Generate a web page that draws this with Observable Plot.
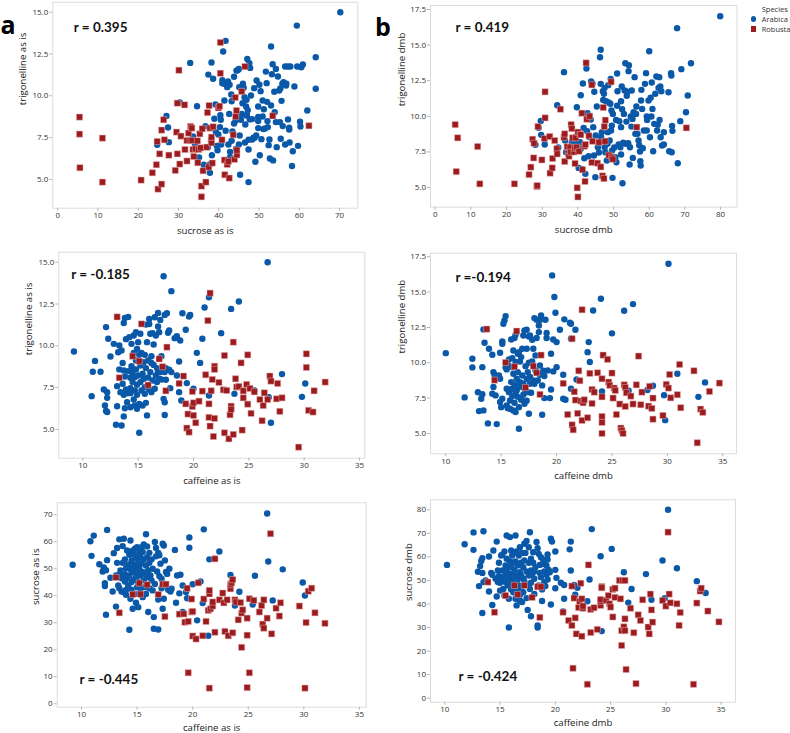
<!DOCTYPE html>
<html><head><meta charset="utf-8">
<script src="https://cdn.jsdelivr.net/npm/d3@7"></script>
<script src="https://cdn.jsdelivr.net/npm/@observablehq/plot@0.6"></script>
<style>
body{margin:0;background:#fff;width:790px;height:733px;position:relative;overflow:hidden;font-family:"Open Sans",sans-serif;}
.panel{position:absolute;}
.legend{position:absolute;left:748px;top:4px;font-family:"Open Sans",sans-serif;font-size:7.5px;color:#333;line-height:10px;}
.legend .row{position:relative;padding-left:13.7px;white-space:nowrap;}
.legend .sym{position:absolute;left:3px;top:2.4px;width:5.4px;height:5.4px;}
</style></head><body>
<div id="root"></div>
<div class="legend">
  <div class="row" style="padding-left:13.7px">Species</div>
  <div class="row"><span class="sym" style="background:#0a58a8;border-radius:50%"></span>Arabica</div>
  <div class="row"><span class="sym" style="background:#9b1b1e"></span>Robusta</div>
</div>
<script>
const arabicaColor = "#0a58a8", robustaColor = "#9b1b1e";

// tick values
const sucroseAsIsTicks = [0,10,20,30,40,50,60,70];
const sucroseDmbTicks = [0,10,20,30,40,50,60,70,80];
const caffeineTicks = [10,15,20,25,30,35];
const trigAsIsTicks = [5,7.5,10,12.5,15];
const trigDmbTicks = [5,7.5,10,12.5,15,17.5];
const sucroseAsIsYTicks = [0,10,20,30,40,50,60,70];
const sucroseDmbYTicks = [0,10,20,30,40,50,60,70,80];

// correlation labels
const rA1 = "r = 0.395", rB1 = "r = 0.419", rA2 = "r = -0.185", rB2 = "r =-0.194", rA3 = "r = -0.445", rB3 = "r = -0.424";

// panel a1: sucrose as is vs trigonelline as is
const a1Robusta = [[5.4,8.73],[5.4,7.71],[5.5,5.70],[11.1,7.47],[11.1,4.84],[20.7,4.96],[23.5,5.40],[24.7,7.27],[24.5,5.88],[24.9,4.42],[25.3,6.53],[25.8,4.72],[25.8,7.95],[26.3,8.57],[26.5,7.37],[27.6,6.45],[29.5,7.83],[29.7,9.56],[29.2,5.54],[29.7,6.53],[30.1,11.53],[30.3,5.92],[30.6,7.59],[31.5,9.46],[31.6,6.79],[32.1,6.10],[32.1,7.33],[32.5,7.77],[33.0,8.17],[33.3,8.07],[32.9,7.33],[33.4,7.33],[33.6,6.79],[33.8,6.37],[34.2,6.83],[34.7,7.31],[34.8,6.00],[35.0,6.79],[35.3,7.73],[35.5,6.89],[35.7,4.60],[35.9,8.03],[35.7,3.96],[36.1,5.52],[36.8,4.84],[37.0,6.93],[37.2,9.00],[37.5,5.74],[37.6,9.42],[37.8,8.07],[38.1,7.33],[38.2,7.19],[38.2,7.53],[38.4,5.98],[38.6,8.15],[39.9,9.28],[40.2,9.38],[40.4,11.35],[40.4,13.19],[40.8,7.37],[41.5,5.28],[41.4,6.16],[42.6,5.08],[42.1,5.90],[42.4,6.08],[43.6,7.67],[43.9,6.20],[44.1,9.90],[44.2,8.76],[44.4,9.12],[44.5,6.47],[44.5,6.75],[45.7,10.26],[46.5,11.75],[53.4,8.80],[62.4,8.21]];
const a1Arabica = [[24.7,7.07],[27.0,8.80],[27.4,8.11],[27.6,7.23],[30.3,9.60],[32.9,11.97],[33.6,7.57],[34.1,7.11],[34.6,9.38],[35.1,6.31],[36.3,5.88],[36.7,8.19],[37.3,6.93],[37.8,5.90],[37.8,5.40],[37.4,11.27],[38.2,11.99],[38.6,11.02],[38.3,6.45],[38.9,8.63],[39.2,9.48],[39.3,7.83],[39.5,7.01],[39.7,6.75],[39.9,7.69],[40.3,8.13],[40.4,8.84],[40.5,8.57],[40.6,7.09],[40.9,10.94],[40.9,10.76],[41.3,10.72],[41.1,12.65],[41.7,13.29],[41.4,9.72],[41.7,7.91],[42.1,10.52],[42.3,10.86],[42.7,10.66],[42.6,8.92],[42.4,7.09],[42.8,6.33],[42.8,6.65],[43.1,10.08],[43.2,9.68],[43.2,7.31],[43.4,7.87],[43.8,8.35],[43.8,11.14],[44.2,8.53],[44.3,6.83],[44.4,11.51],[44.7,11.53],[44.8,8.61],[45.0,7.09],[45.0,11.61],[45.1,10.52],[45.2,7.63],[45.3,5.28],[45.5,8.57],[45.7,8.92],[45.9,9.56],[46.0,10.72],[46.2,10.48],[46.4,9.92],[46.5,7.21],[46.6,8.29],[46.8,9.36],[46.8,8.82],[46.9,9.76],[47.0,8.86],[47.1,12.21],[47.2,9.14],[47.4,4.84],[47.4,7.37],[47.4,6.79],[47.6,11.95],[47.7,8.59],[47.8,11.67],[48.0,10.02],[48.3,8.61],[48.3,7.39],[48.6,7.49],[48.8,10.46],[49.1,6.06],[48.9,7.49],[49.3,7.63],[49.4,10.92],[49.8,9.36],[49.8,8.73],[49.8,8.07],[49.8,8.49],[50.1,10.66],[50.2,6.45],[50.4,10.28],[50.6,7.41],[50.9,9.72],[50.9,8.76],[51.1,8.01],[51.2,9.20],[51.5,8.05],[51.7,11.45],[51.9,10.76],[52.0,9.64],[52.1,8.49],[52.2,8.13],[52.4,7.05],[52.6,7.39],[52.7,6.25],[53.0,9.42],[53.0,12.95],[53.2,11.29],[53.4,11.89],[53.5,6.14],[53.8,10.24],[53.9,9.02],[54.2,8.43],[54.2,11.61],[54.4,6.93],[54.7,11.16],[55.0,10.32],[55.2,8.43],[55.3,10.44],[55.4,7.43],[55.6,9.70],[55.8,10.72],[55.9,8.19],[56.1,10.82],[56.5,11.75],[56.5,7.09],[56.7,10.62],[56.8,10.72],[57.2,11.75],[57.2,8.59],[57.5,7.99],[57.5,8.09],[57.6,7.21],[57.8,11.75],[58.2,5.80],[58.4,6.69],[58.8,10.56],[59.4,14.20],[59.5,11.75],[59.7,7.01],[60.2,8.45],[60.3,8.17],[60.5,11.71],[60.9,11.87],[62.0,9.12],[64.1,12.31],[64.1,10.42],[70.2,15.0]];

// panel b1: sucrose dmb vs trigonelline dmb
const b1Robusta = [[5.6,9.42],[6.3,8.49],[5.9,6.12],[11.9,7.88],[12.5,5.26],[22.2,5.26],[26.3,5.91],[26.8,6.43],[27.3,8.39],[27.7,8.11],[27.6,7.08],[28.5,5.07],[28.6,5.14],[28.8,9.28],[29.9,6.94],[30.6,8.44],[30.8,11.72],[30.8,9.89],[32.1,8.58],[32.2,6.01],[32.8,6.38],[32.9,7.04],[33.5,8.30],[34.1,7.72],[34.2,7.36],[35.1,10.50],[36.1,8.53],[36.3,8.77],[36.3,6.83],[37.0,7.88],[37.3,7.41],[37.5,7.20],[37.8,7.83],[38.0,7.48],[38.1,9.42],[38.3,9.14],[38.5,8.49],[38.9,7.50],[39.1,7.76],[39.2,6.69],[39.4,8.49],[39.6,7.83],[40.0,8.89],[39.8,4.98],[40.0,4.34],[40.3,7.55],[40.6,8.70],[40.8,8.72],[41.1,10.22],[41.3,6.25],[41.8,7.90],[42.0,5.43],[42.1,8.02],[42.3,13.75],[42.5,9.80],[43.3,10.01],[43.1,8.63],[43.9,12.21],[43.9,6.76],[44.1,8.25],[45.5,6.71],[45.9,8.18],[46.4,6.45],[46.9,5.82],[47.1,10.62],[47.3,5.63],[47.4,9.28],[47.7,9.73],[47.6,8.25],[48.7,7.27],[49.3,12.42],[49.5,7.13],[49.8,6.99],[56.5,9.24],[70.4,9.19]];
const b1Arabica = [[29.0,9.19],[29.6,9.68],[29.7,8.70],[30.7,8.02],[28.1,8.00],[34.2,10.78],[34.5,7.81],[36.1,13.10],[36.4,8.30],[36.7,7.48],[37.1,7.76],[38.3,8.18],[39.3,8.56],[39.4,8.07],[39.7,10.64],[40.2,6.38],[40.6,8.18],[40.8,7.72],[40.8,11.48],[41.1,6.31],[41.4,12.30],[41.6,9.19],[41.8,7.06],[42.1,5.96],[42.4,13.36],[42.6,8.96],[42.7,10.22],[43.0,7.20],[43.2,8.54],[43.6,9.77],[43.7,12.44],[44.1,12.30],[44.3,9.24],[44.5,7.25],[44.6,11.72],[44.9,5.73],[45.0,8.65],[45.3,10.69],[45.6,7.83],[45.9,7.46],[46.2,14.15],[46.4,14.67],[46.4,12.28],[46.5,8.53],[46.7,8.89],[47.0,11.76],[47.1,11.15],[47.3,11.58],[47.5,12.00],[47.5,7.83],[47.7,7.48],[47.9,11.06],[48.1,6.90],[48.3,8.07],[48.4,8.89],[48.5,12.19],[48.6,10.97],[48.9,8.30],[49.1,10.88],[49.2,12.63],[49.3,9.00],[49.4,10.41],[49.5,9.35],[49.6,7.60],[49.7,5.68],[49.8,10.17],[50.2,7.81],[50.5,7.13],[50.7,9.75],[50.8,6.78],[51.0,10.74],[51.0,13.01],[51.1,11.76],[51.4,8.02],[51.6,9.66],[51.9,7.83],[52.1,7.32],[52.1,11.06],[52.1,9.24],[52.3,12.09],[52.4,10.50],[52.5,5.30],[52.7,8.14],[52.9,10.17],[53.1,11.81],[53.3,13.73],[53.4,8.07],[53.6,9.63],[53.7,11.44],[53.9,11.72],[54.1,8.11],[54.2,13.17],[54.3,13.59],[54.5,6.62],[54.6,7.83],[54.8,9.99],[55.0,9.28],[55.1,11.81],[55.3,9.82],[55.4,7.08],[55.6,10.29],[55.9,12.75],[56.1,8.77],[56.3,10.17],[56.4,10.69],[56.7,8.77],[57.0,8.30],[57.2,7.97],[57.4,7.53],[57.5,6.85],[57.6,6.54],[57.7,11.11],[57.8,11.86],[58.0,10.52],[58.2,7.76],[58.5,9.00],[58.8,12.28],[59.1,13.03],[59.3,9.99],[59.3,9.00],[59.4,9.75],[59.8,11.11],[60.0,14.57],[60.2,8.53],[60.4,11.30],[60.6,9.99],[60.7,12.37],[60.9,10.52],[61.1,7.55],[61.4,9.47],[61.7,11.58],[62.0,12.80],[62.2,9.00],[62.4,9.40],[62.6,12.00],[62.8,12.75],[62.9,9.75],[63.1,12.09],[63.2,8.53],[63.4,11.76],[63.6,7.95],[64.1,8.89],[64.1,8.02],[65.4,11.69],[65.6,7.55],[66.1,13.03],[66.2,12.86],[66.3,7.48],[66.4,9.33],[66.5,8.98],[67.8,16.19],[68.0,6.71],[69.0,13.31],[68.7,9.66],[70.3,10.29],[70.8,11.46],[71.7,13.73],[79.9,17.03]];

// panel a2: caffeine as is vs trigonelline as is
const a2Robusta = [[13.1,11.73],[13.3,8.09],[14.5,9.38],[15.3,11.31],[15.1,9.08],[15.9,7.65],[16.9,9.22],[17.2,8.75],[17.5,7.31],[17.6,9.92],[19.1,8.19],[18.7,7.75],[19.3,6.53],[19.4,5.08],[19.6,4.84],[19.5,5.92],[19.9,7.27],[19.9,6.37],[20.0,6.59],[20.0,5.84],[20.2,5.40],[20.5,6.69],[20.8,7.29],[21.1,8.27],[21.3,11.51],[21.4,6.53],[21.5,13.15],[21.4,5.72],[21.5,5.20],[21.6,7.31],[21.7,7.99],[21.8,4.58],[21.9,5.66],[21.9,8.78],[21.9,8.59],[22.3,7.81],[22.7,7.37],[22.8,9.42],[22.8,4.80],[23.0,7.33],[23.2,4.44],[23.4,6.39],[23.3,5.88],[23.4,6.20],[23.6,10.22],[23.6,4.70],[23.8,8.03],[23.9,7.53],[24.1,7.57],[24.3,8.98],[24.4,4.96],[24.5,7.31],[24.5,6.89],[24.8,7.69],[24.9,9.46],[24.9,6.51],[25.1,7.45],[25.2,5.96],[25.5,7.25],[26.0,6.79],[26.2,5.52],[26.3,6.43],[26.4,7.19],[26.7,6.79],[26.9,8.19],[27.0,7.89],[27.5,6.83],[27.6,7.75],[27.8,6.08],[28.0,6.89],[29.5,3.94],[30.2,8.71],[30.2,9.52],[30.4,6.14],[30.8,6.04],[30.9,7.31],[31.9,7.83]];
const a2Arabica = [[9.2,9.66],[10.8,6.99],[10.9,8.45],[11.1,9.10],[11.6,8.45],[11.9,7.39],[12.0,6.43],[12.1,11.12],[12.1,6.10],[12.2,6.04],[12.2,7.23],[12.2,6.89],[12.3,10.42],[12.5,9.36],[12.8,10.12],[13.0,5.28],[13.1,7.59],[13.1,6.39],[13.2,9.62],[13.3,8.59],[13.3,10.02],[13.4,7.23],[13.5,9.72],[13.5,5.24],[13.6,7.73],[13.6,8.98],[13.7,8.53],[13.7,11.37],[13.7,7.07],[13.7,5.78],[13.8,11.67],[13.8,6.27],[13.8,8.17],[13.9,10.40],[13.9,7.39],[14.0,6.63],[14.0,7.17],[14.1,11.73],[14.1,8.49],[14.2,10.52],[14.3,8.09],[14.3,7.47],[14.3,7.17],[14.3,6.33],[14.4,8.78],[14.4,10.12],[14.5,8.27],[14.5,7.83],[14.6,6.79],[14.6,10.62],[14.6,8.57],[14.6,9.58],[14.7,6.43],[14.7,7.33],[14.7,8.13],[14.8,10.82],[14.8,9.12],[14.8,8.59],[14.9,7.07],[14.9,6.24],[14.9,9.82],[14.9,7.67],[15.0,10.22],[15.0,8.23],[15.1,4.80],[15.1,6.53],[15.1,9.46],[15.2,7.83],[15.2,8.82],[15.2,10.72],[15.3,7.33],[15.3,9.58],[15.4,8.33],[15.4,6.43],[15.5,9.02],[15.5,8.03],[15.6,7.13],[15.6,9.46],[15.6,7.53],[15.7,11.27],[15.7,6.59],[15.7,8.67],[15.8,10.22],[15.8,5.84],[15.9,9.12],[15.9,8.11],[16.0,11.61],[16.0,11.31],[16.0,7.39],[16.1,10.72],[16.1,8.43],[16.2,8.98],[16.2,9.38],[16.2,7.23],[16.3,7.93],[16.3,10.76],[16.4,10.08],[16.4,8.86],[16.5,7.43],[16.5,11.71],[16.6,8.23],[16.6,10.62],[16.7,8.67],[16.7,7.83],[16.8,8.43],[16.8,11.97],[16.8,11.16],[16.9,10.82],[16.9,8.03],[17.0,11.55],[17.0,8.43],[17.1,9.38],[17.1,7.99],[17.3,14.16],[17.3,6.83],[17.4,6.63],[17.4,5.86],[17.4,8.43],[17.4,11.85],[17.5,7.97],[17.5,8.67],[17.6,11.95],[17.7,10.78],[17.8,8.57],[17.8,10.92],[17.9,7.47],[18.0,8.43],[18.0,13.27],[18.3,10.46],[18.5,10.58],[18.5,8.23],[18.7,9.06],[18.7,7.23],[18.8,10.32],[18.9,6.73],[19.0,11.95],[19.3,10.96],[19.4,7.77],[19.6,11.75],[19.7,11.85],[20.0,7.43],[20.3,9.58],[20.6,8.98],[20.8,10.42],[21.0,12.29],[21.4,12.91],[21.4,7.03],[22.5,10.76],[23.4,12.21],[23.7,7.13],[24.1,12.65],[25.5,7.33],[26.7,15.0],[26.8,6.93],[27.0,5.40],[28.0,8.31],[29.8,6.95],[30.1,7.75]];

// panel b2: caffeine dmb vs trigonelline dmb
const b2Robusta = [[13.7,12.38],[14.4,8.77],[15.4,10.02],[16.2,9.72],[16.4,12.24],[17.2,8.25],[17.9,9.76],[18.2,9.29],[18.5,7.76],[18.6,10.54],[20.6,8.54],[21.0,6.34],[21.4,11.70],[21.4,5.61],[21.5,5.26],[21.6,7.95],[21.7,7.36],[21.9,6.42],[22.0,9.43],[22.1,8.73],[22.2,7.29],[22.3,5.92],[22.3,13.75],[22.4,7.17],[22.5,7.38],[22.8,6.11],[23.0,9.25],[23.2,7.12],[23.2,8.11],[23.4,7.92],[23.7,9.29],[24.1,8.87],[24.1,6.20],[24.1,5.78],[24.1,5.00],[24.1,7.59],[24.2,10.54],[24.6,10.24],[24.7,8.63],[24.8,8.40],[25.0,9.27],[25.1,7.50],[25.2,8.21],[25.3,8.04],[25.4,6.34],[25.7,7.08],[25.8,5.38],[25.9,5.21],[26.0,5.00],[26.1,8.44],[26.2,8.25],[26.2,6.91],[26.3,7.88],[26.7,7.64],[26.9,7.08],[27.2,8.44],[27.4,10.47],[27.6,7.03],[27.7,7.92],[28.3,6.93],[28.4,8.33],[28.6,6.77],[28.7,7.50],[28.7,6.01],[29.6,6.27],[29.9,8.47],[30.1,8.21],[30.2,9.17],[30.3,7.52],[30.9,7.74],[31.1,9.88],[31.2,6.82],[32.4,9.43],[32.7,4.34],[33.0,6.72],[33.2,6.49],[33.8,7.97],[34.7,8.56]];
const b2Arabica = [[10.0,10.68],[11.7,7.55],[12.4,9.67],[12.4,10.28],[12.9,7.91],[13.0,6.58],[13.2,7.45],[13.3,9.69],[13.3,7.77],[13.4,6.63],[13.4,12.36],[13.5,11.42],[13.8,5.71],[13.9,10.99],[14.2,10.57],[14.2,7.81],[14.3,9.34],[14.3,8.28],[14.4,9.15],[14.5,8.92],[14.5,7.69],[14.6,5.66],[14.8,9.10],[14.9,10.71],[14.9,8.87],[14.9,7.22],[15.0,6.86],[15.1,11.51],[15.1,11.34],[15.1,7.45],[15.2,12.76],[15.3,13.00],[15.4,13.30],[15.4,9.67],[15.5,6.98],[15.5,8.16],[15.5,9.53],[15.6,9.86],[15.6,6.79],[15.7,8.11],[15.7,7.92],[15.7,10.24],[15.8,7.33],[15.8,6.75],[15.9,11.65],[15.9,8.63],[16.0,9.69],[16.0,7.64],[16.0,10.33],[16.0,8.16],[16.1,6.63],[16.1,9.22],[16.1,10.87],[16.2,7.17],[16.2,11.75],[16.2,8.44],[16.3,6.51],[16.3,10.05],[16.3,7.92],[16.3,11.98],[16.4,8.87],[16.4,8.04],[16.5,10.64],[16.5,9.34],[16.5,7.59],[16.6,10.75],[16.6,5.33],[16.6,8.28],[16.6,6.86],[16.7,10.09],[16.7,8.63],[16.8,7.38],[16.8,10.40],[16.9,9.10],[16.9,10.99],[17.0,7.74],[17.0,8.51],[17.0,11.93],[17.1,12.29],[17.1,7.10],[17.1,8.16],[17.2,9.76],[17.3,8.87],[17.3,7.31],[17.3,12.33],[17.3,10.99],[17.4,7.92],[17.4,9.34],[17.5,6.39],[17.5,11.86],[17.5,10.00],[17.6,8.51],[17.6,11.93],[17.6,8.99],[17.7,7.88],[17.8,10.09],[17.8,11.63],[17.9,10.99],[17.9,8.75],[18.0,13.16],[18.0,8.51],[18.1,10.52],[18.1,9.46],[18.2,13.04],[18.2,11.75],[18.3,8.75],[18.4,12.64],[18.4,12.17],[18.5,13.02],[18.5,9.81],[18.5,9.15],[18.6,13.35],[18.7,8.40],[18.7,6.32],[18.8,9.34],[18.8,9.43],[18.9,7.50],[18.9,9.06],[19.0,13.04],[19.1,12.10],[19.1,11.75],[19.2,9.46],[19.4,7.50],[19.5,8.11],[19.5,10.64],[19.6,16.18],[19.7,9.39],[19.7,11.65],[19.8,14.65],[19.9,13.54],[20.0,11.46],[20.0,9.69],[20.3,12.33],[20.6,7.45],[20.6,9.15],[20.7,13.07],[20.8,7.38],[21.2,12.83],[21.3,12.76],[21.3,11.70],[21.3,8.16],[21.7,12.33],[21.8,8.82],[22.8,10.75],[22.9,11.46],[23.0,10.05],[23.3,13.70],[24.0,14.53],[24.1,7.97],[25.0,12.08],[26.1,13.68],[26.5,8.02],[26.9,14.15],[28.2,8.07],[28.7,8.37],[29.7,7.71],[29.8,5.94],[30.1,17.0],[30.9,9.22],[32.8,7.59],[33.4,8.61]];

// panel a3: caffeine as is vs sucrose as is
const a3Robusta = [[13.1,46.8],[13.4,33.7],[14.6,40.5],[15.2,44.7],[15.3,40.6],[15.9,44.1],[16.9,40.5],[17.3,44.3],[17.6,44.3],[17.5,32.3],[18.8,33.2],[19.2,33.3],[19.3,30.2],[19.5,42.8],[19.6,30.5],[19.6,11.5],[19.9,38.8],[19.9,34.0],[20.0,25.1],[20.0,34.2],[20.3,24.0],[20.5,44.8],[20.9,25.2],[21.0,38.8],[21.2,30.5],[21.4,34.6],[21.5,5.8],[21.5,40.7],[21.5,42.0],[21.6,35.2],[21.8,36.2],[21.8,37.7],[22.0,26.5],[22.0,53.7],[22.4,38.5],[22.7,41.0],[22.8,37.4],[22.9,26.8],[23.1,38.5],[23.2,25.2],[23.4,42.6],[23.4,44.1],[23.5,44.8],[23.6,46.0],[23.6,26.3],[23.8,38.5],[23.9,37.7],[24.1,31.1],[24.3,37.5],[24.4,33.6],[24.4,20.9],[24.5,34.8],[24.9,31.7],[24.9,25.4],[24.9,6.0],[25.1,38.9],[25.1,11.5],[25.5,38.3],[26.0,34.0],[26.2,36.4],[26.3,29.5],[26.4,28.0],[26.4,38.5],[26.7,31.7],[27.0,63.0],[27.1,25.9],[27.5,35.4],[27.8,32.5],[27.9,37.4],[29.6,36.2],[30.1,5.8],[30.2,30.1],[30.4,41.7],[30.7,42.8],[31.0,33.7],[31.9,29.8]];
const a3Arabica = [[9.2,51.5],[10.8,60.2],[10.9,54.8],[11.1,62.3],[11.6,51.7],[11.9,49.0],[12.0,50.5],[12.1,43.6],[12.1,44.7],[12.2,33.0],[12.2,49.5],[12.3,64.4],[12.3,53.2],[12.6,46.7],[12.8,41.6],[12.9,55.8],[13.1,47.5],[13.1,36.0],[13.2,52.2],[13.2,57.7],[13.3,43.8],[13.4,60.9],[13.4,47.8],[13.4,42.8],[13.5,49.4],[13.6,46.5],[13.6,41.6],[13.7,58.4],[13.7,52.2],[13.8,61.1],[13.8,41.4],[13.9,48.0],[13.9,45.3],[13.9,53.5],[14.0,40.4],[14.0,50.2],[14.0,42.2],[14.1,56.8],[14.1,46.5],[14.2,43.8],[14.2,51.5],[14.3,55.2],[14.3,47.5],[14.3,27.4],[14.4,49.8],[14.4,60.5],[14.4,38.9],[14.5,53.1],[14.5,45.1],[14.5,42.3],[14.6,56.7],[14.6,35.2],[14.6,48.8],[14.7,51.5],[14.7,46.0],[14.7,55.4],[14.8,40.7],[14.8,57.4],[14.9,50.6],[14.9,37.4],[14.9,46.9],[14.9,54.0],[15.0,43.2],[15.0,58.0],[15.0,48.8],[15.1,35.8],[15.1,52.2],[15.1,45.1],[15.2,55.9],[15.2,40.7],[15.2,50.0],[15.3,54.3],[15.3,47.5],[15.3,42.6],[15.4,58.0],[15.4,51.9],[15.5,39.5],[15.5,48.8],[15.5,56.2],[15.6,45.7],[15.6,59.0],[15.6,53.5],[15.7,43.2],[15.7,48.1],[15.8,62.8],[15.8,51.2],[15.8,40.7],[15.9,54.3],[15.9,58.3],[15.9,46.9],[16.0,49.4],[16.0,34.0],[16.1,52.2],[16.1,42.8],[16.1,55.9],[16.2,47.5],[16.3,45.7],[16.3,53.5],[16.4,42.0],[16.4,50.0],[16.5,32.1],[16.5,27.8],[16.6,44.4],[16.6,59.9],[16.7,54.6],[16.7,57.7],[16.8,49.0],[16.9,38.6],[16.9,55.9],[16.9,27.5],[17.0,47.3],[17.0,55.0],[17.1,51.9],[17.2,46.3],[17.2,42.8],[17.3,35.2],[17.3,59.3],[17.4,58.6],[17.4,38.9],[17.5,53.1],[17.5,43.8],[17.6,48.8],[17.7,48.1],[17.8,42.2],[17.9,50.0],[18.0,41.6],[18.1,42.6],[18.4,57.0],[18.5,37.4],[18.6,47.5],[18.8,40.9],[18.9,47.8],[19.1,43.8],[19.1,34.0],[19.4,41.4],[19.5,39.1],[19.7,57.8],[19.7,61.6],[20.0,44.3],[20.4,30.9],[20.7,45.3],[20.9,37.3],[21.0,64.6],[21.4,25.2],[21.5,53.5],[22.4,56.4],[23.4,47.7],[23.8,36.4],[24.2,41.5],[25.4,36.8],[25.6,47.4],[26.7,70.5],[26.8,52.7],[27.2,38.3],[28.1,49.8],[29.9,44.9],[30.1,40.1]];

// panel b3: caffeine dmb vs sucrose dmb
const b3Robusta = [[13.9,49.3],[14.5,36.5],[15.5,43.6],[16.3,47.9],[16.6,44.0],[17.2,47.9],[17.9,42.8],[18.4,47.3],[18.6,34.3],[18.7,47.3],[20.7,36.5],[21.2,33.0],[21.5,30.9],[21.5,47.6],[21.6,12.7],[21.7,42.5],[21.8,34.1],[21.9,27.3],[22.1,38.5],[22.2,41.1],[22.3,48.8],[22.4,42.2],[22.4,26.3],[22.5,38.2],[22.5,39.1],[22.9,5.9],[23.0,56.6],[23.2,37.7],[23.2,27.9],[23.5,38.4],[23.8,29.2],[24.1,39.4],[24.1,41.1],[24.1,41.9],[24.2,47.4],[24.2,46.9],[24.6,41.5],[24.8,43.6],[24.9,40.1],[25.0,38.7],[25.2,34.5],[25.2,46.2],[25.4,42.8],[25.4,46.7],[25.8,50.0],[25.9,42.2],[26.0,28.7],[26.0,22.4],[26.1,50.0],[26.2,30.3],[26.3,33.7],[26.3,50.0],[26.3,28.7],[26.4,12.2],[26.8,38.2],[27.1,27.8],[27.3,6.2],[27.5,35.4],[27.7,33.0],[27.9,41.8],[28.4,30.2],[28.5,27.3],[28.6,44.2],[28.7,37.5],[28.8,32.3],[29.7,41.5],[30.0,39.1],[30.2,70.5],[30.3,44.2],[30.4,40.5],[31.0,40.1],[31.2,30.9],[31.3,36.4],[32.5,5.9],[32.8,40.4],[33.1,45.5],[33.2,46.7],[33.8,37.0],[34.8,32.4]];
const b3Arabica = [[10.2,56.6],[11.8,65.4],[12.6,70.4],[12.6,63.0],[13.0,53.7],[13.1,47.6],[13.2,56.1],[13.3,58.3],[13.4,59.5],[13.4,36.2],[13.4,53.2],[13.5,49.3],[13.5,70.9],[13.7,50.0],[14.0,60.2],[14.0,45.3],[14.2,53.2],[14.3,52.4],[14.3,39.6],[14.4,62.7],[14.6,50.7],[14.7,66.5],[14.7,43.2],[14.8,49.3],[14.8,54.2],[14.9,51.8],[14.9,57.5],[15.0,45.7],[15.0,49.0],[15.1,51.4],[15.1,60.6],[15.2,54.2],[15.2,60.9],[15.3,50.7],[15.3,46.4],[15.4,62.3],[15.4,43.6],[15.5,52.1],[15.5,56.4],[15.5,49.3],[15.6,69.1],[15.6,59.2],[15.6,54.2],[15.7,51.8],[15.7,47.9],[15.7,55.6],[15.8,30.0],[15.8,42.2],[15.9,52.8],[15.9,68.4],[15.9,58.1],[15.9,50.4],[16.0,46.2],[16.0,55.6],[16.0,62.7],[16.1,52.8],[16.1,60.6],[16.1,49.0],[16.2,45.0],[16.2,57.5],[16.2,51.4],[16.2,61.7],[16.3,46.7],[16.3,54.5],[16.3,49.6],[16.4,58.1],[16.4,42.2],[16.4,69.1],[16.5,39.4],[16.5,52.1],[16.5,62.3],[16.5,45.7],[16.6,56.4],[16.6,50.4],[16.7,60.6],[16.7,47.9],[16.8,53.5],[16.8,41.5],[16.8,64.1],[16.8,43.9],[16.9,52.1],[16.9,57.5],[16.9,46.4],[17.0,61.7],[17.0,40.8],[17.1,50.9],[17.1,55.6],[17.1,45.0],[17.2,65.6],[17.2,58.5],[17.2,49.6],[17.3,61.7],[17.4,53.8],[17.4,42.5],[17.4,66.8],[17.5,47.9],[17.5,37.5],[17.6,57.5],[17.6,64.1],[17.6,52.1],[17.7,70.5],[17.7,46.4],[17.8,34.8],[17.8,54.2],[17.8,59.2],[17.8,49.0],[17.9,52.4],[18.0,57.5],[18.0,62.0],[18.1,53.8],[18.1,44.3],[18.1,50.7],[18.2,55.6],[18.3,66.3],[18.4,30.9],[18.4,30.0],[18.4,63.7],[18.5,47.9],[18.5,61.3],[18.6,56.6],[18.6,53.2],[18.7,59.9],[18.7,51.4],[18.8,46.2],[18.8,41.3],[18.9,57.1],[18.9,58.9],[19.0,53.8],[19.0,49.3],[19.1,47.6],[19.2,56.4],[19.2,52.4],[19.3,61.0],[19.3,58.9],[19.3,50.4],[19.4,54.5],[19.5,53.5],[19.6,39.8],[19.6,67.7],[19.7,66.5],[20.0,46.7],[20.0,62.3],[20.0,54.5],[20.1,51.1],[20.5,49.0],[20.7,36.8],[20.8,42.2],[20.8,48.1],[21.3,63.2],[21.4,66.5],[21.4,54.2],[21.7,48.1],[21.8,43.9],[22.0,46.9],[22.9,41.2],[23.1,50.4],[23.3,71.8],[24.1,60.3],[24.2,28.5],[25.1,63.4],[26.2,53.5],[26.6,40.6],[26.9,46.4],[28.2,52.7],[28.7,41.8],[29.7,58.5],[29.9,42.5],[30.2,80.0],[31.0,55.2],[32.8,49.7],[33.6,44.7]];

const fmt1 = d3.format(".1f");
const fmt0 = d3.format("d");

function panel(o) {
  const marks = [
    Plot.frame({stroke: "#dcdcdc", strokeWidth: 1}),
    Plot.axisX({ticks: o.xTicks, tickSize: 3, tickPadding: 1.5, stroke: "#b5b5b5", fill: "#333", fontSize: 8, label: null, tickFormat: fmt0}),
    Plot.axisY({ticks: o.yTicks, tickSize: 3, tickPadding: 1.5, stroke: "#b5b5b5", fill: "#333", fontSize: 8, label: null, tickFormat: o.yFmt}),
    Plot.dot(o.arabica, {x: d => d[0], y: d => d[1], r: 3.2, fill: arabicaColor, stroke: null, symbol: "circle"}),
    Plot.dot(o.robusta, {x: d => d[0], y: d => d[1], r: 3.5, fill: robustaColor, stroke: "#e8b4b4", strokeWidth: 0.5, symbol: "square"}),
    Plot.text([o.xLabel], {text: d => d, frameAnchor: "bottom", dy: o.xLabDy, lineAnchor: "middle", fontSize: 9.6, fill: "#1a1a1a"}),
    Plot.text([o.yLabel], {text: d => d, frameAnchor: "left", dx: o.yLabDx, rotate: -90, lineAnchor: "middle", fontSize: 9.6, fill: "#1a1a1a"}),
    Plot.text([o.r], {text: d => d, frameAnchor: "top-left", dx: o.rDx, dy: o.rDy, textAnchor: "start", lineAnchor: "middle", fontSize: 13.5, fontWeight: "bold", fontFamily: "Lato", fill: "#111"})
  ];
  if (o.letter) marks.push(Plot.text([o.letter], {text: d => d, frameAnchor: "top-left", dx: o.letterDx, dy: o.letterDy, textAnchor: "start", lineAnchor: "middle", fontSize: 25, fontWeight: "bold", fontFamily: "Open Sans", fill: "#000"}));
  const svg = Plot.plot({
    width: o.width, height: o.height,
    marginLeft: o.mL, marginRight: o.mR, marginTop: o.mT, marginBottom: o.mB,
    x: {domain: o.xDomain},
    y: {domain: o.yDomain},
    style: {background: "transparent", fontFamily: "'Open Sans', sans-serif", fontSize: "8px", overflow: "visible"},
    marks
  });
  const div = document.createElement("div");
  div.className = "panel";
  div.style.left = o.left + "px";
  div.style.top = o.top + "px";
  div.style.width = o.width + "px";
  div.appendChild(svg);
  document.getElementById("root").appendChild(div);
}

panel({left: 0, top: 0, width: 380, height: 240, mL: 52.3, mR: 22.7, mT: 1.7, mB: 32.3,
  xDomain: [-1.24, 74.55], yDomain: [3.28, 15.6], xTicks: sucroseAsIsTicks, yTicks: trigAsIsTicks, yFmt: fmt1,
  xLabel: "sucrose as is", yLabel: "trigonelline as is", xLabDy: 22.3, yLabDx: -29.6,
  r: rA1, rDx: 21, rDy: 25, arabica: a1Arabica, robusta: a1Robusta, letter: "a", letterDx: -52.3, letterDy: 23.8});
panel({left: 370, top: 0, width: 380, height: 240, mL: 60, mR: 13.5, mT: 5, mB: 33.3,
  xDomain: [-1.32, 84.6], yDomain: [3.62, 17.78], xTicks: sucroseDmbTicks, yTicks: trigDmbTicks, yFmt: fmt1,
  xLabel: "sucrose dmb", yLabel: "trigonelline dmb", xLabDy: 22.3, yLabDx: -28.3,
  r: rB1, rDx: 25, rDy: 21.7, arabica: b1Arabica, robusta: b1Robusta, letter: "b", letterDx: -55.5, letterDy: 22});
panel({left: 0, top: 240, width: 380, height: 250, mL: 58.3, mR: 15.7, mT: 11.7, mB: 32.3,
  xDomain: [7.83, 35.48], yDomain: [3.28, 15.6], xTicks: caffeineTicks, yTicks: trigAsIsTicks, yFmt: fmt1,
  xLabel: "caffeine as is", yLabel: "trigonelline as is", xLabDy: 23, yLabDx: -30,
  r: rA2, rDx: 12.4, rDy: 22.3, arabica: a2Arabica, robusta: a2Robusta});
panel({left: 370, top: 240, width: 380, height: 250, mL: 60, mR: 14, mT: 12.7, mB: 36.7,
  xDomain: [8.62, 36.24], yDomain: [3.56, 17.75], xTicks: caffeineTicks, yTicks: trigDmbTicks, yFmt: fmt1,
  xLabel: "caffeine dmb", yLabel: "trigonelline dmb", xLabDy: 21.7, yLabDx: -28.3,
  r: rB2, rDx: 25, rDy: 24.6, arabica: b2Arabica, robusta: b2Robusta});
panel({left: 0, top: 490, width: 380, height: 243, mL: 56.7, mR: 14.3, mT: 12.3, mB: 26.3,
  xDomain: [7.81, 35.61], yDomain: [-1.26, 74.44], xTicks: caffeineTicks, yTicks: sucroseAsIsYTicks, yFmt: fmt0,
  xLabel: "caffeine as is", yLabel: "sucrose as is", xLabDy: 20.3, yLabDx: -21.7,
  r: rA3, rDx: 22.3, rDy: 176.7, arabica: a3Arabica, robusta: a3Robusta});
panel({left: 370, top: 490, width: 380, height: 243, mL: 60, mR: 15, mT: 9.3, mB: 31.3,
  xDomain: [8.71, 36.3], yDomain: [-1.7, 84.25], xTicks: caffeineTicks, yTicks: sucroseDmbYTicks, yFmt: fmt0,
  xLabel: "caffeine dmb", yLabel: "sucrose dmb", xLabDy: 21, yLabDx: -22,
  r: rB3, rDx: 28, rDy: 177, arabica: b3Arabica, robusta: b3Robusta});
</script>
</body></html>
